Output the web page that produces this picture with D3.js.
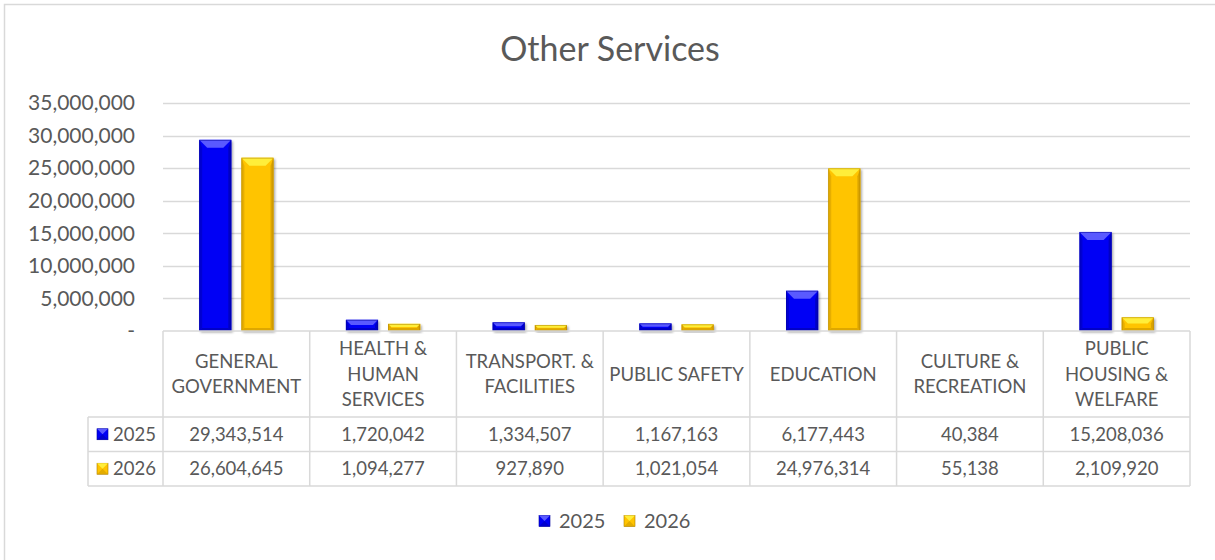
<!DOCTYPE html>
<html>
<head>
<meta charset="utf-8">
<script src="https://cdn.jsdelivr.net/npm/d3@7"></script>
<style>
  body { margin: 0; background: #fff; }
  svg { display: block; font-family: Lato, "Open Sans", sans-serif; }
</style>
</head>
<body>
<svg width="1215" height="560"></svg>
<script>
(function (d3) {
  'use strict';

  // chart data
  var categories = ['GENERAL\nGOVERNMENT', 'HEALTH &\nHUMAN\nSERVICES', 'TRANSPORT. &\nFACILITIES',
    'PUBLIC SAFETY', 'EDUCATION', 'CULTURE &\nRECREATION', 'PUBLIC\nHOUSING &\nWELFARE'];
  var seriesNames = ['2025', '2026'];
  var values2025 = [29343514, 1720042, 1334507, 1167163, 6177443, 40384, 15208036];
  var values2026 = [26604645, 1094277, 927890, 1021054, 24976314, 55138, 2109920];
  var yTicks = [0, 5000000, 10000000, 15000000, 20000000, 25000000, 30000000, 35000000];

  var series = [
    { name: seriesNames[0], values: values2025, fill: '#0000f5', light: '#5a5aff', dark: '#0000a8', stroke: '#00009a' },
    { name: seriesNames[1], values: values2026, fill: '#ffc400', light: '#ffee3a', dark: '#c89400', stroke: '#a87d00' }
  ];

  var svg = d3.select('svg');
  var textColor = '#595959';
  var gridColor = '#d9d9d9';

  var defs = svg.append('defs');
  var shadow = defs.append('filter').attr('id', 'shadow')
    .attr('x', '-30%').attr('y', '-30%').attr('width', '160%').attr('height', '160%');
  shadow.append('feDropShadow').attr('dx', 1.5).attr('dy', 1.5).attr('stdDeviation', 1.2)
    .attr('flood-color', '#000').attr('flood-opacity', 0.35);

  // outer frame
  svg.append('rect').attr('x', 4.5).attr('y', 4.5).attr('width', 1240).attr('height', 600)
    .attr('fill', 'none').attr('stroke', gridColor).attr('stroke-width', 1.5);

  svg.append('text').attr('x', 610).attr('y', 61).attr('text-anchor', 'middle')
    .attr('fill', textColor).attr('font-size', 34).text('Other Services');

  var left = 163, right = 1190;
  var x = d3.scaleBand().domain(d3.range(categories.length)).range([left, right]);
  var y = d3.scaleLinear().domain([0, 35000000]).range([331, 103]);
  var xs = d3.scaleBand().domain(seriesNames).range([0, x.bandwidth()]).paddingInner(0.238).paddingOuter(0.857);

  // gridlines + y axis
  var yAxis = d3.axisLeft(y).tickValues(yTicks).tickSize(0).tickPadding(0)
    .tickFormat(function (d) { return d === 0 ? '-' : d3.format(',')(d); });
  var ga = svg.append('g').attr('transform', 'translate(135,0)').call(yAxis);
  ga.select('.domain').remove();
  ga.selectAll('text').attr('fill', textColor).attr('font-size', 21).attr('font-family', 'Lato');

  svg.append('g').selectAll('line').data(yTicks.slice(1)).enter().append('line')
    .attr('x1', left).attr('x2', right)
    .attr('y1', function (d) { return Math.round(y(d)) + 0.5; })
    .attr('y2', function (d) { return Math.round(y(d)) + 0.5; })
    .attr('stroke', gridColor).attr('stroke-width', 1.5);

  function bevelBar(g, bx, by, bw, bh, s) {
    if (bh < 0.5) return;
    var b = Math.min(8, bh / 2.2), e = Math.min(3, bw / 6), bb = Math.min(b, 3);
    g.append('rect').attr('x', bx).attr('y', by).attr('width', bw).attr('height', bh)
      .attr('fill', s.fill).attr('filter', 'url(#shadow)');
    // side and bottom shading
    g.append('polygon').attr('points', [[bx, by], [bx + e, by + b], [bx + e, by + bh - bb], [bx, by + bh]].join(' '))
      .attr('fill', s.dark).attr('opacity', 0.45);
    g.append('polygon').attr('points', [[bx + bw, by], [bx + bw - e, by + b], [bx + bw - e, by + bh - bb], [bx + bw, by + bh]].join(' '))
      .attr('fill', s.dark).attr('opacity', 0.65);
    g.append('polygon').attr('points', [[bx, by + bh], [bx + e, by + bh - bb], [bx + bw - e, by + bh - bb], [bx + bw, by + bh]].join(' '))
      .attr('fill', s.dark).attr('opacity', 0.6);
    g.append('polygon').attr('points', [[bx, by], [bx + bw, by], [bx + bw - b, by + b], [bx + b, by + b]].join(' '))
      .attr('fill', s.light);
    g.append('rect').attr('x', bx + 0.5).attr('y', by + 0.5).attr('width', bw - 1).attr('height', Math.max(0, bh - 1))
      .attr('fill', 'none').attr('stroke', s.stroke).attr('stroke-width', 0.8).attr('opacity', 0.6);
  }

  var bars = svg.append('g');
  categories.forEach(function (c, i) {
    series.forEach(function (s) {
      var v = s.values[i];
      var bx = x(i) + xs(s.name);
      var top = y(v);
      bevelBar(bars, bx, top, xs.bandwidth(), y(0) - top, s);
    });
  });

  // data table
  var tTop = 331, hdrH = 86, rowH = 34.5, labelLeft = 88;
  var tbl = svg.append('g').attr('fill', 'none').attr('stroke', gridColor).attr('stroke-width', 1.5);
  var tBottom = tTop + hdrH + rowH * series.length;
  tbl.append('line').attr('x1', left).attr('x2', right).attr('y1', tTop).attr('y2', tTop);
  d3.range(series.length + 1).forEach(function (r) {
    var yy = tTop + hdrH + rowH * r;
    tbl.append('line').attr('x1', labelLeft).attr('x2', right).attr('y1', yy).attr('y2', yy);
  });
  tbl.append('line').attr('x1', labelLeft).attr('x2', labelLeft).attr('y1', tTop + hdrH).attr('y2', tBottom);
  d3.range(categories.length + 1).forEach(function (i) {
    var xx = left + x.step() * i;
    tbl.append('line').attr('x1', xx).attr('x2', xx).attr('y1', tTop).attr('y2', tBottom);
  });

  var hdr = svg.append('g').attr('fill', textColor).attr('font-size', 18.5).attr('text-anchor', 'middle');
  categories.forEach(function (c, i) {
    var lines = c.split('\n');
    var cx = x(i) + x.bandwidth() / 2;
    var cy = tTop + hdrH / 2;
    lines.forEach(function (ln, k) {
      hdr.append('text').attr('x', cx)
        .attr('y', cy + (k - (lines.length - 1) / 2) * 25.5)
        .attr('dy', '0.36em').text(ln);
    });
  });

  function bevelKey(g, kx, ky, k, s) {
    g.append('rect').attr('x', kx).attr('y', ky).attr('width', k).attr('height', k).attr('fill', s.fill)
      .attr('stroke', s.stroke).attr('stroke-width', 0.6);
    g.append('polygon').attr('points', [[kx, ky], [kx + k, ky], [kx + k / 2, ky + k / 2]].join(' ')).attr('fill', s.light);
    g.append('polygon').attr('points', [[kx, ky + k], [kx + k, ky + k], [kx + k / 2, ky + k / 2]].join(' ')).attr('fill', s.dark).attr('opacity', 0.5);
  }

  var fmt = d3.format(',');
  series.forEach(function (s, r) {
    var cy = tTop + hdrH + rowH * r + rowH / 2;
    bevelKey(svg.append('g'), 97, cy - 5.5, 11, s);
    svg.append('text').attr('x', 113).attr('y', cy).attr('dy', '0.36em')
      .attr('fill', textColor).attr('font-size', 18.5).text(s.name);
    s.values.forEach(function (v, i) {
      svg.append('text').attr('x', x(i) + x.bandwidth() / 2).attr('y', cy).attr('dy', '0.36em')
        .attr('text-anchor', 'middle').attr('fill', textColor).attr('font-size', 18.5).text(fmt(v));
    });
  });

  // legend
  var legend = svg.append('g');
  var lx = 539;
  series.forEach(function (s, i) {
    var ox = lx + i * 85;
    bevelKey(legend, ox, 515.5, 11, s);
    legend.append('text').attr('x', ox + 20).attr('y', 521).attr('dy', '0.36em')
      .attr('fill', textColor).attr('font-size', 20).text(s.name);
  });

}(d3));
</script>
</body>
</html>
